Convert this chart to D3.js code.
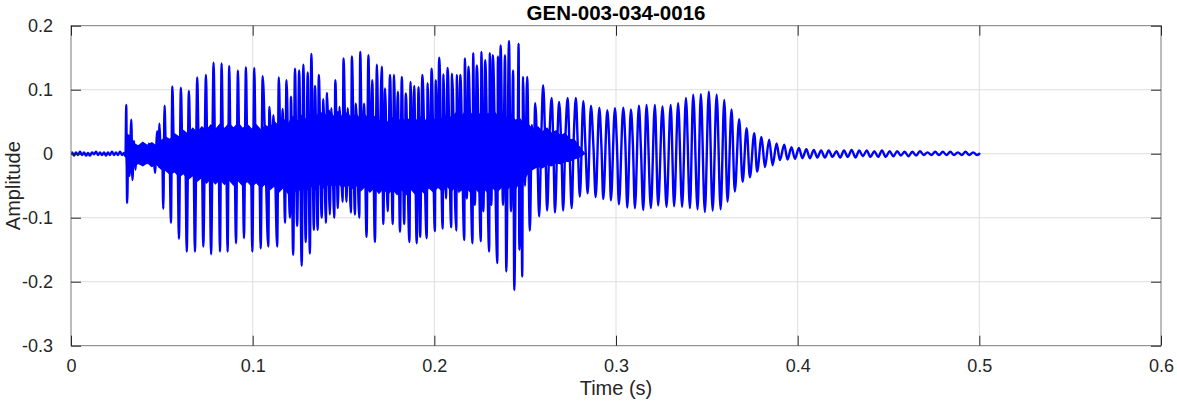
<!DOCTYPE html>
<html>
<head>
<meta charset="utf-8">
<script src="https://cdn.jsdelivr.net/npm/d3@7"></script>
<style>
  html, body { margin: 0; padding: 0; background: #ffffff; }
  svg { display: block; }
  text { font-family: "Liberation Sans", Arial, Helvetica, sans-serif; }
</style>
</head>
<body>
<svg id="chart" width="1177" height="404"></svg>
<script>
// ---------------- DATA (times in ms, amplitudes) ----------------
const chartTitle = "GEN-003-034-0016";
const xTicks = [0, 0.1, 0.2, 0.3, 0.4, 0.5, 0.6];
const yTicks = [-0.3, -0.2, -0.1, 0, 0.1, 0.2];

const quietTime = [0, 0.55, 1.65, 2.75, 3.85, 4.95, 6.05, 7.16, 8.26, 9.36, 10.46, 11.56, 12.66, 13.76,
  14.86, 15.96, 17.06, 18.16, 19.26, 20.36, 21.46, 22.56, 23.66, 24.76, 25.86, 26.96, 28.07, 29.17];
const quietAmp = [0, 0.002, -0.003, 0.002, -0.002, 0.003, -0.002, 0.002, -0.003, 0.001, -0.003, 0.002, -0.001, 0.003,
  -0.002, 0.002, -0.002, 0.002, -0.003, 0.002, -0.002, 0.003, -0.002, 0.002, -0.002, 0.003, -0.002, 0.001];

const onsetTime = [30.0, 30.4, 30.9, 31.6, 32.2, 33.2, 33.8, 34.7, 35.5, 36.3, 37.4, 38.5, 39.6, 40.7,
  41.8, 42.9, 44.0, 45.1, 46.2, 47.5, 48.2, 48.7, 49.5, 50.1];
const onsetAmp = [-0.004, 0.076, -0.077, 0.02, -0.035, 0.053, -0.041, 0.02, -0.025, 0.012, -0.015, 0.013, -0.016, 0.014,
  -0.015, 0.016, -0.018, 0.012, -0.03, 0.035, -0.02, 0.047, -0.01, 0.02];

const voicedTimeA = [50.8, 51.5, 52.3, 54.2, 55.0, 55.8, 56.7, 58.6, 59.4, 60.5, 61.4, 62.9, 63.7, 64.9, 65.8, 67.4,
  68.2, 69.5, 70.4, 72.0, 72.8, 74.3, 75.1, 76.2, 77.1, 78.5, 79.4, 81.2, 82.0, 82.9, 83.8, 85.4,
  86.2, 87.1, 87.9, 90.0, 90.8, 91.9, 92.7, 94.4, 95.2, 96.3, 97.1, 99.0, 99.8, 100.9, 101.7, 103.6, 104.4, 105.5];
const voicedAmpA = [-0.086, 0.075, 0, 0, -0.108, 0.105, 0, 0, -0.133, 0.103, 0, 0, -0.153, 0.098, 0, 0,
  -0.153, 0.119, 0, 0, -0.145, 0.123, 0, 0, -0.157, 0.142, 0, 0, -0.153, 0.141, 0, 0,
  -0.153, 0.137, 0, 0, -0.140, 0.130, 0, 0, -0.132, 0.135, 0, 0, -0.153, 0.134, 0, 0, -0.148, 0.121];

const voicedTimeB = [107.0, 108.6, 109.2, 110.6, 111.4, 112.3, 113.5, 114.4, 115.6, 116.5, 117.2, 117.8, 118.6, 119.7,
  120.5, 121.1, 122.3, 123.3, 124.5, 125.6, 127.0, 127.9, 129.2, 130.3, 131.5, 132.3, 133.7, 134.3, 135.8, 136.4,
  138.0, 138.9, 140.3, 140.9, 142.5, 143.3, 144.9, 145.5, 146.9, 147.8, 149.5, 150.0, 151.7, 152.3, 154.1, 154.6,
  156.3, 156.8, 158.7, 159.2, 160.4, 161.3, 162.7, 163.7, 164.8, 165.8, 167.3, 168.4, 169.5, 171.1, 171.9, 172.9,
  174.3, 175.6, 177.1, 177.8, 178.9, 179.9, 181.1, 182.1, 183.4, 184.3, 186.3, 186.9, 188.2, 188.9, 190.3, 191.3,
  192.2, 193.4];
const voicedAmpB = [0, -0.145, 0.073, -0.03, 0.06, -0.02, -0.145, 0.119, -0.03, 0.07, -0.02, -0.108, 0.115, -0.02,
  -0.10, 0.089, -0.158, 0.133, -0.113, 0.130, -0.175, 0.139, -0.138, 0.127, -0.156, 0.156, -0.119, 0.106, -0.119, 0.123,
  -0.10, 0.085, -0.108, 0.095, -0.095, 0.071, -0.10, 0.115, -0.085, 0.073, -0.075, 0.149, -0.075, 0.071, -0.092, 0.152,
  -0.095, 0.078, -0.10, 0.159, -0.04, 0.078, -0.13, 0.154, -0.04, 0.115, -0.138, 0.139, -0.04, 0.136, -0.11, 0.102,
  -0.09, 0.123, -0.11, 0.123, -0.04, 0.097, -0.122, 0.12, -0.11, 0.094, -0.138, 0.112, -0.04, 0.106, -0.14, 0.104,
  -0.13, 0.123];

const voicedTimeC = [195.8, 196.3, 197.6, 198.5, 200.3, 200.8, 201.7, 202.7, 204.6, 205.0, 206.4, 207.3, 209.3, 209.7,
  212.1, 212.4, 213.5, 214.3, 216.5, 216.8, 217.9, 218.8, 221.0, 221.4, 222.3, 223.4, 225.6, 225.9, 227.0, 228.0,
  230.2, 230.5, 231.4, 232.2, 234.7, 235.0, 235.7, 236.5, 237.8, 238.9, 239.6, 241.1, 242.2, 243.4, 244.0, 245.2,
  245.7, 246.4, 246.8, 247.7, 248.4, 248.8, 249.9, 251.1, 252.6, 253.7, 254.8, 255.5, 256.7, 257.7, 258.9, 259.9,
  261.2, 262.1, 263.4, 264.6, 265.6, 266.4, 267.8, 268.7, 270.0, 270.9, 272.2, 273.4, 274.5, 275.6, 276.8, 277.9];
const voicedAmpC = [-0.132, 0.11, -0.05, 0.133, -0.121, 0.115, -0.05, 0.150, -0.117, 0.124, -0.07, 0.134, -0.115, 0.125,
  -0.12, 0.123, -0.06, 0.123, -0.135, 0.149, -0.07, 0.136, -0.14, 0.157, -0.08, 0.138, -0.137, 0.159, -0.09, 0.146,
  -0.153, 0.157, -0.08, 0.154, -0.171, 0.152, -0.05, 0.169, -0.08, 0.154, -0.184, 0.176, -0.09, 0.130, -0.213, 0.05,
  -0.02, 0.172, -0.15, 0.05, -0.192, 0.12, -0.05, 0.12, -0.12, 0.045, 0.0, 0.079, 0.0, -0.098, 0.03, 0.107,
  0.0, -0.089, 0.03, 0.087, 0.0, -0.092, 0.03, 0.081, 0.0, -0.089, 0.03, 0.087, 0.0, -0.085, 0.03, 0.087];

const decayTime = [279.0, 280.1, 282.0, 283.2, 284.4, 286.2, 287.6, 288.8, 290.8, 292.0, 293.0, 295.2, 296.3, 297.2,
  299.4, 300.5, 301.6, 304.0, 305.1, 306.2, 308.2, 309.3, 310.4, 312.6, 313.7, 315.0, 316.8, 319.2, 321.4, 323.2,
  325.6, 327.8, 330.1, 332.0, 334.2, 336.4, 338.5, 340.7, 342.5, 344.9, 346.7, 348.9, 351.1, 353.2, 355.4, 357.6,
  359.6, 361.4, 363.6, 365.4, 367.8, 369.7, 371.9, 373.7, 376.1, 377.7, 380.1, 382.0, 384.3, 386.2, 388.4, 390.2,
  392.6, 394.4, 396.6, 398.5, 400.7, 402.6, 404.8, 406.7, 408.9, 410.8];
const decayAmp = [0.01, -0.067, 0.082, 0.01, -0.062, 0.075, 0.01, -0.068, 0.072, 0.01, -0.071, 0.068, 0.015, -0.073,
  0.071, 0.015, -0.079, 0.072, 0.02, -0.084, 0.069, 0.015, -0.085, 0.075, 0.01, -0.088, 0.076, -0.085, 0.076, -0.081,
  0.074, -0.083, 0.076, -0.082, 0.079, -0.083, 0.087, -0.085, 0.092, -0.087, 0.093, -0.091, 0.097, -0.089, 0.092, -0.087,
  0.084, -0.075, 0.069, -0.059, 0.054, -0.044, 0.040, -0.037, 0.032, -0.028, 0.026, -0.021, 0.022, -0.018, 0.016, -0.010,
  0.014, -0.009, 0.010, -0.008, 0.009, -0.007, 0.007, -0.007, 0.006, -0.006];

const tailTime = [412.9, 415.0, 417.1, 419.2, 421.3, 423.4, 425.5, 427.6, 429.7, 431.8, 433.9, 435.9, 438.0, 440.1,
  442.2, 444.3, 446.4, 448.5, 450.6, 452.7, 454.8, 456.8, 458.9, 461.0, 463.1, 465.2, 467.3, 469.4, 471.5, 473.6,
  475.7, 477.8, 479.9, 481.9, 484.0, 486.1, 488.2, 490.3, 492.4, 494.5, 496.6, 498.7, 500.0];
const tailAmp = [0.005, -0.006, 0.005, -0.005, 0.004, -0.006, 0.005, -0.005, 0.006, -0.006, 0.005, -0.004, 0.005, -0.005,
  0.004, -0.005, 0.005, -0.005, 0.004, -0.004, 0.004, -0.003, 0.003, -0.004, 0.003, -0.003, 0.004, -0.002, 0.002, -0.002,
  0.003, -0.002, 0.003, -0.002, 0.003, -0.002, 0.002, -0.002, 0.003, -0.002, 0.002, -0.002, 0.0];

// dense inner ringing band (ragged upper / lower edge of the solid region)
const bandTime = [30.3, 30.8, 32.5, 34.7, 37, 39.5, 42, 44.5, 47, 49.5,
  52, 54.5, 57, 59.5, 62, 64.5, 67, 69.5, 72, 74.5, 77, 79.5, 82, 84.5, 87, 89.5, 92, 94.5, 97, 99.5,
  102, 104.5, 107, 109.5, 112, 114.5, 117, 119.5, 122, 124.5, 127, 129.5, 132, 134.5, 137, 139.5, 142, 144.5, 147, 149.5,
  152, 154.5, 157, 159.5, 162, 164.5, 167, 169.5, 172, 174.5, 177, 179.5, 182, 184.5, 187, 189.5, 192, 194.5, 197, 199.5,
  202, 204.5, 207, 209.5, 212, 214.5, 217, 219.5, 222, 224.5, 227, 229.5, 232, 234.5, 237, 239.5, 242, 244.5, 247, 249.5,
  252, 254.5, 257, 259.5, 262, 264.5, 267, 269.5, 272, 274.5, 277, 279.5, 282.8];
const bandUpper = [0, 0.03, 0.028, 0.016, 0.012, 0.018, 0.013, 0.017, 0.012, 0.02,
  0.026, 0.022, 0.031, 0.026, 0.036, 0.03, 0.04, 0.033, 0.042, 0.036, 0.045, 0.038, 0.046, 0.039, 0.047, 0.04, 0.048, 0.039, 0.046, 0.038,
  0.045, 0.037, 0.044, 0.04, 0.05, 0.042, 0.054, 0.046, 0.058, 0.05, 0.06, 0.053, 0.064, 0.055, 0.066, 0.058, 0.068, 0.058, 0.066, 0.056,
  0.064, 0.055, 0.062, 0.052, 0.06, 0.05, 0.058, 0.05, 0.057, 0.048, 0.056, 0.048, 0.056, 0.049, 0.057, 0.05, 0.058, 0.05, 0.058, 0.051,
  0.06, 0.053, 0.062, 0.055, 0.064, 0.056, 0.066, 0.058, 0.068, 0.06, 0.07, 0.061, 0.069, 0.06, 0.066, 0.056, 0.062, 0.052, 0.055, 0.044,
  0.045, 0.036, 0.042, 0.034, 0.04, 0.032, 0.036, 0.028, 0.032, 0.022, 0.022, 0.012, 0];
const bandLower = [0, -0.035, -0.03, -0.02, -0.015, -0.019, -0.014, -0.02, -0.016, -0.024,
  -0.026, -0.032, -0.028, -0.036, -0.031, -0.04, -0.034, -0.043, -0.037, -0.046, -0.039, -0.047, -0.04, -0.048, -0.041, -0.049, -0.042, -0.05, -0.043, -0.051,
  -0.045, -0.053, -0.047, -0.056, -0.05, -0.06, -0.052, -0.062, -0.053, -0.061, -0.052, -0.058, -0.05, -0.056, -0.047, -0.054, -0.046, -0.052, -0.046, -0.053,
  -0.047, -0.055, -0.049, -0.058, -0.051, -0.06, -0.053, -0.062, -0.054, -0.063, -0.055, -0.064, -0.056, -0.064, -0.055, -0.063, -0.054, -0.062, -0.053, -0.06,
  -0.052, -0.059, -0.051, -0.058, -0.05, -0.058, -0.051, -0.059, -0.052, -0.06, -0.053, -0.061, -0.053, -0.06, -0.052, -0.058, -0.05, -0.055, -0.045, -0.04,
  -0.028, -0.024, -0.02, -0.022, -0.017, -0.019, -0.014, -0.016, -0.012, -0.012, -0.008, -0.006, 0];

// ---------------- CHART ----------------
const plot = { left: 71, right: 1161, top: 25.7, bottom: 345.7 };
const svg = d3.select("#chart");

const x = d3.scaleLinear().domain([0, 0.6]).range([plot.left, plot.right]);
const y = d3.scaleLinear().domain([-0.3, 0.2]).range([plot.bottom, plot.top]);

const blue = "#0000ff";
const axisColor = "#262626";
const fmt = d => d3.format("~g")(d).replace("\u2212", "-");

// grid
const grid = svg.append("g");
grid.selectAll("line.gx").data(xTicks.slice(1, -1)).enter().append("line")
  .attr("x1", d => x(d)).attr("x2", d => x(d)).attr("y1", plot.top).attr("y2", plot.bottom)
  .attr("stroke", "#dfdfdf").attr("stroke-width", 1);
grid.selectAll("line.gy").data(yTicks.slice(1, -1)).enter().append("line")
  .attr("x1", plot.left).attr("x2", plot.right).attr("y1", d => y(d)).attr("y2", d => y(d))
  .attr("stroke", "#dfdfdf").attr("stroke-width", 1);

// clip
svg.append("clipPath").attr("id", "clip").append("rect")
  .attr("x", plot.left).attr("y", plot.top)
  .attr("width", plot.right - plot.left).attr("height", plot.bottom - plot.top);

// assemble waveform
const allTime = [].concat(quietTime, onsetTime, voicedTimeA, voicedTimeB, voicedTimeC, decayTime, tailTime);
const allAmp = [].concat(quietAmp, onsetAmp, voicedAmpA, voicedAmpB, voicedAmpC, decayAmp, tailAmp);
const nW = Math.min(allTime.length, allAmp.length);
const wave = allTime.slice(0, nW).map((t, i) => ({ t: t / 1000, v: allAmp[i] }));
const nB = Math.min(bandTime.length, bandUpper.length, bandLower.length);
const band = bandTime.slice(0, nB).map((t, i) => ({ t: t / 1000, hi: bandUpper[i], lo: bandLower[i] }));

const g = svg.append("g").attr("clip-path", "url(#clip)");

const area = d3.area().x(d => x(d.t)).y0(d => y(d.lo)).y1(d => y(d.hi)).curve(d3.curveLinear);
g.append("path").datum(band).attr("d", area).attr("fill", blue).attr("stroke", blue).attr("stroke-width", 1.2);

const line = d3.line().x(d => x(d.t)).y(d => y(d.v)).curve(d3.curveMonotoneX);
g.append("path").datum(wave).attr("d", line)
  .attr("fill", "none").attr("stroke", blue).attr("stroke-width", 2.4)
  .attr("stroke-linejoin", "round").attr("stroke-linecap", "round");

// box
svg.append("rect").attr("x", plot.left).attr("y", plot.top)
  .attr("width", plot.right - plot.left).attr("height", plot.bottom - plot.top)
  .attr("fill", "none").attr("stroke", "#7a7a7a").attr("stroke-width", 1);

// axes with inward ticks (mirrored on top/right)
const tickLen = 10;
const axB = d3.axisBottom(x).tickValues(xTicks).tickSize(-tickLen).tickPadding(tickLen + 4).tickFormat(fmt);
const axL = d3.axisLeft(y).tickValues(yTicks).tickSize(-tickLen).tickPadding(tickLen + 8).tickFormat(fmt);
const axT = d3.axisTop(x).tickValues(xTicks).tickSize(-tickLen).tickFormat("");
const axR = d3.axisRight(y).tickValues(yTicks).tickSize(-tickLen).tickFormat("");

function styleAxis(sel) {
  sel.select(".domain").remove();
  sel.selectAll(".tick line").attr("stroke", axisColor).attr("stroke-width", 1);
  sel.selectAll(".tick text").attr("fill", axisColor).style("font-size", "18px")
    .style("font-family", "'Liberation Sans', Arial, Helvetica, sans-serif");
}
svg.append("g").attr("transform", `translate(0,${plot.bottom})`).call(axB).call(styleAxis);
svg.append("g").attr("transform", `translate(${plot.left},0)`).call(axL).call(styleAxis);
svg.append("g").attr("transform", `translate(0,${plot.top})`).call(axT).call(styleAxis);
svg.append("g").attr("transform", `translate(${plot.right},0)`).call(axR).call(styleAxis);

// titles
svg.append("text").attr("x", (plot.left + plot.right) / 2).attr("y", 20)
  .attr("text-anchor", "middle").attr("font-weight", "bold").attr("font-size", 20.5)
  .attr("fill", "#000").text(chartTitle);
svg.append("text").attr("x", (plot.left + plot.right) / 2).attr("y", 395)
  .attr("text-anchor", "middle").attr("font-size", 20).attr("fill", axisColor).text("Time (s)");
svg.append("text").attr("transform", `translate(20,${(plot.top + plot.bottom) / 2}) rotate(-90)`)
  .attr("text-anchor", "middle").attr("font-size", 20).attr("fill", axisColor).text("Amplitude");
</script>
</body>
</html>
